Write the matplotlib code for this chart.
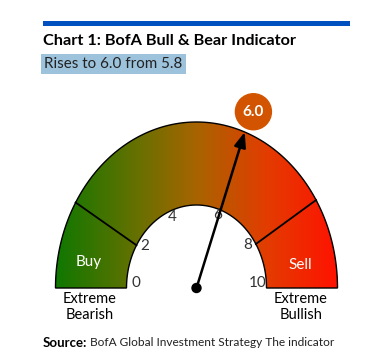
import numpy as np
import matplotlib.pyplot as plt
from matplotlib.patches import Polygon, Circle, Rectangle
from matplotlib.colors import LinearSegmentedColormap

# data
value = 6.0
previous = 5.8
tick_values = [0, 2, 4, 6, 8, 10]
separators = [2, 8]
zone_labels = ["Buy", "Sell"]
end_labels = ["Extreme\nBearish", "Extreme\nBullish"]

FONT = ["Lato", "DejaVu Sans"]

# gauge geometry in pixels
cx, cy = 196.5, 288
rx_out, ry_out = 141, 166
rx_in, ry_in = 70, 83
tick_angles = [180, 149, 113, 70, 32, 0]  # dial is not evenly spaced


def ang(v):
    return np.radians(np.interp(v, tick_values, tick_angles))


def pt(v, fx, fy):
    a = ang(v)
    return cx + fx * np.cos(a), cy - fy * np.sin(a)


fig = plt.figure(figsize=(3.9, 3.51), dpi=100)
ax = fig.add_axes([0, 0, 1, 1])

# blue bar + title
ax.add_patch(Rectangle((43, 21), 307, 4.5, color='#0050bf', lw=0))
ax.text(43, 41, "Chart 1: BofA Bull & Bear Indicator", fontsize=11.7,
        fontweight='bold', family=FONT, va='center')
ax.text(44, 64, "Rises to 6.0 from %.1f" % previous, fontsize=10.9, family=FONT,
        va='center', color='#222222',
        bbox=dict(boxstyle='square,pad=0.22', fc='#9cc2dc', ec='none'))

# gauge annulus with horizontal gradient
vs = np.linspace(0, 10, 200)
outer = [pt(v, rx_out, ry_out) for v in vs]
inner = [pt(v, rx_in, ry_in) for v in vs[::-1]]
ring = Polygon(outer + inner, closed=True, fc='none', ec='black', lw=1, zorder=3)
ax.add_patch(ring)
cmap = LinearSegmentedColormap.from_list(
    'g', [(0, '#0f7800'), (0.3, '#6a7000'), (0.5, '#a86400'),
          (0.75, '#e33c00'), (1, '#ff1200')])
grad = np.linspace(0, 1, 256).reshape(1, -1)
im = ax.imshow(grad, cmap=cmap, extent=(cx - rx_out, cx + rx_out, cy, cy - ry_out),
               aspect='auto', zorder=2)
im.set_clip_path(Polygon(outer + inner, closed=True, transform=ax.transData))
ax.set_xlim(0, 390)
ax.set_ylim(351, 0)
ax.axis('off')

# separators
for s in separators:
    x0, y0 = pt(s, rx_in, ry_in)
    x1, y1 = pt(s, rx_out, ry_out)
    ax.plot([x0, x1], [y0, y1], color='black', lw=1.3, zorder=4)

# tick labels
for t in tick_values:
    x, y = pt(t, rx_in * 0.87, ry_in * 0.87)
    ax.text(x, y - 5, str(t), fontsize=11, family=FONT, ha='center', va='center',
            color='#333333', zorder=5)

ax.text(89, 262, zone_labels[0], fontsize=11, family=FONT, color='white',
        ha='center', va='center', zorder=5)
ax.text(300, 265, zone_labels[1], fontsize=11, family=FONT, color='white',
        ha='center', va='center', zorder=5)
ax.text(90, 307, end_labels[0], fontsize=10.5, family=FONT, ha='center',
        va='center', linespacing=1.1)
ax.text(301, 307, end_labels[1], fontsize=10.5, family=FONT, ha='center',
        va='center', linespacing=1.1)

# needle
tx, ty = pt(value, rx_out, ry_out)
ax.annotate("", xy=(tx, ty), xytext=(cx, cy),
            arrowprops=dict(arrowstyle='-|>,head_length=0.9,head_width=0.35',
                            color='black', lw=1.8, shrinkA=0, shrinkB=0), zorder=6)
ax.add_patch(Circle((cx, cy), 4.5, color='black', zorder=7))

# value bubble
bx, by = pt(value, rx_out * 1.18, ry_out * 1.13)
ax.add_patch(Circle((bx, by), 18, color='#d35400', zorder=6))
ax.text(bx, by, "%.1f" % value, fontsize=11, family=FONT, color='white',
        fontweight='bold', ha='center', va='center', zorder=7)

# source
src = ax.text(43, 343, "Source:", fontsize=9.5, family=FONT, fontweight='bold',
              va='center')
fig.canvas.draw()
bb = src.get_window_extent()
x_end = ax.transData.inverted().transform((bb.x1, bb.y0))[0]
ax.text(x_end + 3, 343, "BofA Global Investment Strategy The indicator",
        fontsize=8.6, family=FONT, va='center', color='#222222')

fig.savefig('out.png', dpi=100)
